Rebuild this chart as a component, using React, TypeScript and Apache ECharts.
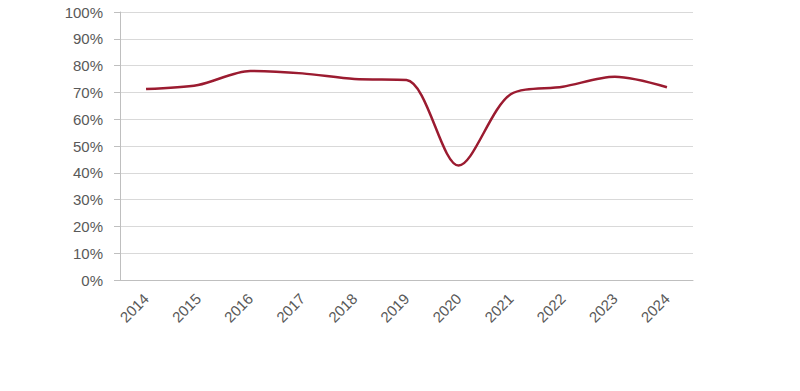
import React, { useEffect, useRef } from "react";
import * as echarts from "echarts";

const categories = ["2014", "2015", "2016", "2017", "2018", "2019", "2020", "2021", "2022", "2023", "2024"];
const values = [71.3, 72.8, 78.0, 77.1, 75.0, 74.6, 42.7, 69.3, 72.1, 75.8, 71.9];
const yTicks = { min: 0, max: 100, interval: 10 };

export default function App() {
  const ref = useRef<HTMLDivElement>(null);
  useEffect(() => {
    if (!ref.current) return;
    const chart = echarts.init(ref.current, null, { renderer: "svg" });
    const font = "'Liberation Sans', Arial, sans-serif";
    chart.setOption({
      animation: false,
      backgroundColor: "#ffffff",
      grid: { left: 120, right: 107, top: 12, bottom: 111, containLabel: false },
      xAxis: {
        type: "category",
        data: categories,
        boundaryGap: true,
        axisLine: { lineStyle: { color: "#bfbfbf", width: 1 } },
        axisTick: { show: false },
        axisLabel: { rotate: 45, color: "#595959", fontSize: 15, fontFamily: font, margin: 16, interval: 0 },
      },
      yAxis: {
        type: "value",
        min: yTicks.min,
        max: yTicks.max,
        interval: yTicks.interval,
        axisLine: { show: true, lineStyle: { color: "#bfbfbf", width: 1 } },
        axisTick: { show: true, length: 6, lineStyle: { color: "#bfbfbf" } },
        splitLine: { lineStyle: { color: "#d9d9d9", width: 1 } },
        axisLabel: { color: "#595959", fontSize: 15, fontFamily: font, margin: 17, formatter: (v: number) => `${v}%` },
      },
      series: [
        {
          type: "line",
          data: values,
          smooth: 0.3,
          symbol: "none",
          lineStyle: { color: "#9b1b30", width: 2.5 },
        },
      ],
    });
    return () => chart.dispose();
  }, []);
  return <div ref={ref} style={{ width: 800, height: 391, margin: -8 }} />;
}
